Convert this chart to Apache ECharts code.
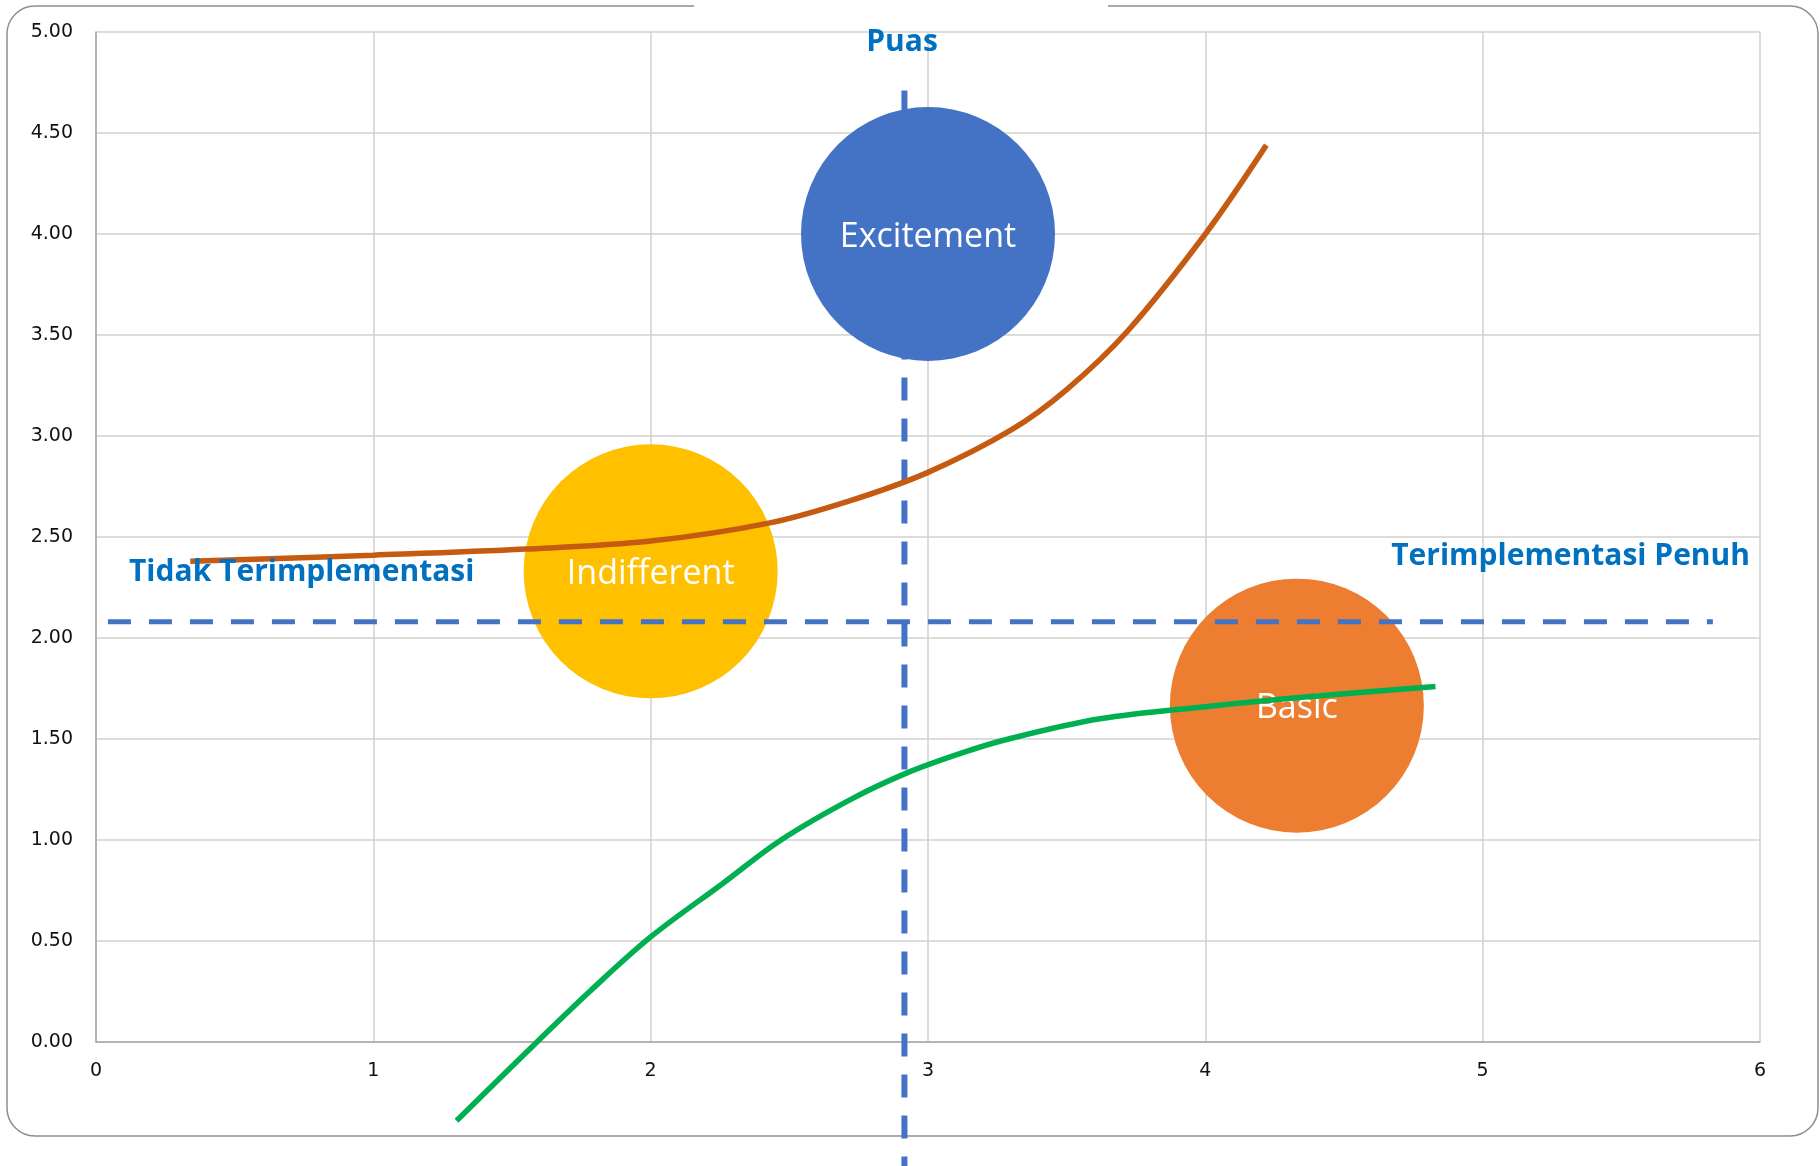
<!DOCTYPE html>
<html>
<head>
<meta charset="utf-8" />
<title>Kano</title>
<script src="https://cdn.jsdelivr.net/npm/echarts@6/dist/echarts.min.js"></script>
<style>
  body { margin: 0; background: #fff; }
  #main { width: 1820px; height: 1166px; }
</style>
</head>
<body>
<div id="main"></div>
<script type="text/javascript">
// bubbles (kategori Kano)
var bubbleNames = ['Excitement', 'Indifferent', 'Basic'];
var bubbleX = [3.0, 2.0, 4.33];
var bubbleY = [4.0, 2.33, 1.665];

// kurva excitement (oranye) dan basic (hijau)
var excitementCurve = [
  [0.34, 2.38], [1.0, 2.41], [1.55, 2.44], [2.0, 2.48], [2.43, 2.57], [2.72, 2.68],
  [3.0, 2.82], [3.3, 3.03], [3.5, 3.23], [3.72, 3.52], [4.0, 4.0], [4.22, 4.44]
];
var basicCurve = [
  [1.30, -0.39], [1.59, 0.0], [1.78, 0.25], [2.0, 0.52], [2.26, 0.785], [2.47, 1.0],
  [2.72, 1.2], [2.92, 1.33], [3.12, 1.43], [3.29, 1.50], [3.62, 1.60], [4.0, 1.66],
  [4.38, 1.71], [4.83, 1.76]
];

// garis batas putus-putus
var verticalLine = [[2.915, 4.71], [2.915, -0.65]];
var horizontalLine = [[0.043, 2.08], [5.83, 2.08]];

var bubbleColors = ['#4472C4', '#FFC000', '#ED7D31'];

var chart = echarts.init(document.getElementById('main'));

var bubbleData = bubbleNames.map(function (n, i) {
  return { name: n, value: [bubbleX[i], bubbleY[i]], itemStyle: { color: bubbleColors[i], opacity: 1 } };
});

var option = {
  animation: false,
  backgroundColor: '#fff',
  grid: { left: 96, top: 32, right: 60, bottom: 124 },
  xAxis: {
    type: 'value', min: 0, max: 6, interval: 1,
    axisLine: { show: true, lineStyle: { color: '#a6a6a6', width: 1.5 } },
    axisTick: { show: false },
    axisLabel: { margin: 20, fontFamily: 'DejaVu Sans', fontSize: 19, color: '#111' },
    splitLine: { show: true, lineStyle: { color: '#d0d0d0', width: 1.5 } }
  },
  yAxis: {
    type: 'value', min: 0, max: 5, interval: 0.5,
    axisLine: { show: true, lineStyle: { color: '#a6a6a6', width: 1.5 } },
    axisTick: { show: false },
    axisLabel: {
      margin: 23, fontFamily: 'DejaVu Sans', fontSize: 19, color: '#111',
      formatter: function (v) { return v.toFixed(2); }
    },
    splitLine: { show: true, lineStyle: { color: '#d0d0d0', width: 1.5 } }
  },
  series: [
    {
      type: 'line', data: verticalLine, symbol: 'none', clip: false, z: 1,
      lineStyle: { color: '#4472C4', width: 6, type: [23, 18] }
    },
    {
      type: 'scatter', data: bubbleData, symbolSize: 254, z: 2,
      label: {
        show: true, position: 'inside', formatter: '{b}', offset: [0, 3],
        fontFamily: 'Open Sans', fontSize: 34, color: '#fff'
      }
    },
    {
      type: 'line', data: horizontalLine, symbol: 'none', clip: false, z: 3,
      lineStyle: { color: '#4472C4', width: 5, type: [23, 18] }
    },
    {
      type: 'line', data: excitementCurve, symbol: 'none', smooth: 0.35, clip: false, z: 4,
      lineStyle: { color: '#C55A11', width: 5.5 }
    },
    {
      type: 'line', data: basicCurve, symbol: 'none', smooth: 0.35, clip: false, z: 4,
      lineStyle: { color: '#00B050', width: 5.5 }
    }
  ],
  graphic: {
    elements: [
      {
        type: 'rect', z: -10, silent: true,
        shape: { x: 7, y: 6, width: 1811, height: 1130, r: 28 },
        style: { fill: 'none', stroke: '#8f8f8f', lineWidth: 1.5 }
      },
      {
        type: 'rect', z: -9, silent: true,
        shape: { x: 694, y: 0, width: 414, height: 12 },
        style: { fill: '#fff' }
      },
      {
        type: 'text', x: 902, y: 42, z: 10,
        style: { text: 'Puas', font: 'bold 30px "Open Sans"', fill: '#0070C0', align: 'center', verticalAlign: 'middle' }
      },
      {
        type: 'text', x: 129, y: 572, z: 10,
        style: { text: 'Tidak Terimplementasi', font: 'bold 30px "Open Sans"', fill: '#0070C0', align: 'left', verticalAlign: 'middle' }
      },
      {
        type: 'text', x: 1750, y: 556, z: 10,
        style: { text: 'Terimplementasi Penuh', font: 'bold 30px "Open Sans"', fill: '#0070C0', align: 'right', verticalAlign: 'middle' }
      }
    ]
  }
};

chart.setOption(option);
</script>
</body>
</html>
